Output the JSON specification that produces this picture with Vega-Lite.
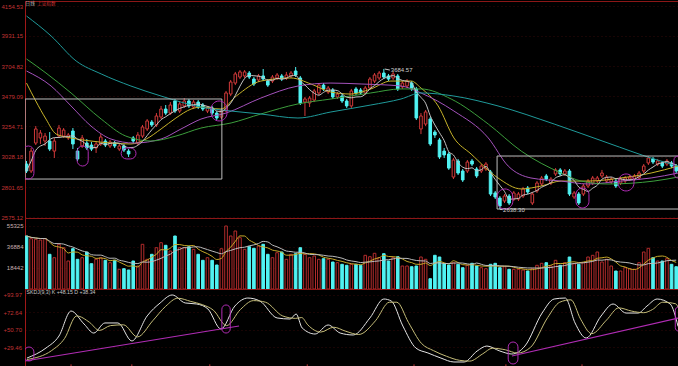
{
  "$schema": "https://vega.github.io/schema/vega-lite/v6.json",
  "background": "#000000",
  "padding": 0,
  "bounds": "flush",
  "spacing": 0,
  "config": {
    "view": {"stroke": "#8c1717", "strokeWidth": 1},
    "scale": {"continuousPadding": 0},
    "axis": {"labelFont": "Liberation Sans", "labelFontSize": 6, "ticks": false, "tickSize": 0, "labelPadding": 2, "labelOverlap": false, "labelFlush": false, "domainColor": "#a01818", "gridColor": "#330909", "gridDash": [1, 3]}
  },
  "resolve": {"scale": {"y": "independent", "color": "independent"}},
  "datasets": {
    "k": [
      {"i":0,"o":2974,"h":2997,"l":2907,"c":2922,"v":46534},
      {"i":1,"o":2922,"h":3094,"l":2907,"c":3071,"v":44163},
      {"i":2,"o":3131,"h":3258,"l":3116,"c":3236,"v":43637},
      {"i":3,"o":3169,"h":3228,"l":3124,"c":3206,"v":43022},
      {"i":4,"o":3146,"h":3206,"l":3109,"c":3183,"v":44163},
      {"i":5,"o":3146,"h":3213,"l":3071,"c":3086,"v":30467},
      {"i":6,"o":3071,"h":3169,"l":3019,"c":3146,"v":27481},
      {"i":7,"o":3183,"h":3266,"l":3169,"c":3243,"v":39247},
      {"i":8,"o":3183,"h":3243,"l":3169,"c":3228,"v":36261},
      {"i":9,"o":3169,"h":3206,"l":3154,"c":3191,"v":24584},
      {"i":10,"o":3221,"h":3243,"l":3086,"c":3124,"v":35383},
      {"i":11,"o":3071,"h":3094,"l":2997,"c":3012,"v":26077},
      {"i":12,"o":3109,"h":3191,"l":3094,"c":3169,"v":27481},
      {"i":13,"o":3131,"h":3161,"l":3079,"c":3094,"v":32486},
      {"i":14,"o":3116,"h":3139,"l":3071,"c":3086,"v":22213},
      {"i":15,"o":3094,"h":3146,"l":3057,"c":3124,"v":26077},
      {"i":16,"o":3124,"h":3198,"l":3109,"c":3176,"v":27481},
      {"i":17,"o":3146,"h":3161,"l":3101,"c":3116,"v":25199},
      {"i":18,"o":3109,"h":3154,"l":3094,"c":3139,"v":23091},
      {"i":19,"o":3131,"h":3146,"l":3094,"c":3109,"v":25199},
      {"i":20,"o":3086,"h":3124,"l":3071,"c":3109,"v":17297},
      {"i":21,"o":3109,"h":3124,"l":3064,"c":3079,"v":17823},
      {"i":22,"o":3071,"h":3086,"l":3027,"c":3049,"v":16682},
      {"i":23,"o":3169,"h":3183,"l":3131,"c":3146,"v":24584},
      {"i":24,"o":3131,"h":3213,"l":3116,"c":3191,"v":20194},
      {"i":25,"o":3183,"h":3266,"l":3169,"c":3251,"v":39247},
      {"i":26,"o":3236,"h":3310,"l":3221,"c":3296,"v":26077},
      {"i":27,"o":3288,"h":3303,"l":3251,"c":3266,"v":30467},
      {"i":28,"o":3266,"h":3355,"l":3251,"c":3333,"v":36261},
      {"i":29,"o":3325,"h":3408,"l":3310,"c":3385,"v":40651},
      {"i":30,"o":3385,"h":3415,"l":3340,"c":3355,"v":38369},
      {"i":31,"o":3355,"h":3437,"l":3340,"c":3415,"v":33364},
      {"i":32,"o":3445,"h":3460,"l":3355,"c":3370,"v":46534},
      {"i":33,"o":3370,"h":3445,"l":3355,"c":3423,"v":36261},
      {"i":34,"o":3408,"h":3467,"l":3393,"c":3445,"v":36261},
      {"i":35,"o":3445,"h":3460,"l":3393,"c":3408,"v":37139},
      {"i":36,"o":3400,"h":3452,"l":3385,"c":3437,"v":34857},
      {"i":37,"o":3437,"h":3452,"l":3385,"c":3400,"v":30467},
      {"i":38,"o":3415,"h":3430,"l":3370,"c":3385,"v":25199},
      {"i":39,"o":3370,"h":3408,"l":3355,"c":3393,"v":27481},
      {"i":40,"o":3393,"h":3408,"l":3340,"c":3355,"v":25199},
      {"i":41,"o":3355,"h":3370,"l":3303,"c":3318,"v":21072},
      {"i":42,"o":3325,"h":3393,"l":3310,"c":3378,"v":35383},
      {"i":43,"o":3370,"h":3520,"l":3363,"c":3505,"v":55314},
      {"i":44,"o":3497,"h":3602,"l":3482,"c":3587,"v":46534},
      {"i":45,"o":3579,"h":3662,"l":3564,"c":3647,"v":50924},
      {"i":46,"o":3624,"h":3676,"l":3609,"c":3662,"v":45041},
      {"i":47,"o":3632,"h":3676,"l":3617,"c":3662,"v":34857},
      {"i":48,"o":3654,"h":3669,"l":3609,"c":3624,"v":37139},
      {"i":49,"o":3609,"h":3624,"l":3557,"c":3572,"v":35735},
      {"i":50,"o":3602,"h":3647,"l":3587,"c":3632,"v":37754},
      {"i":51,"o":3632,"h":3684,"l":3594,"c":3609,"v":39247},
      {"i":52,"o":3594,"h":3609,"l":3550,"c":3564,"v":30467},
      {"i":53,"o":3594,"h":3639,"l":3579,"c":3624,"v":27481},
      {"i":54,"o":3617,"h":3654,"l":3602,"c":3639,"v":31871},
      {"i":55,"o":3632,"h":3647,"l":3594,"c":3609,"v":32486},
      {"i":56,"o":3617,"h":3662,"l":3602,"c":3639,"v":26077},
      {"i":57,"o":3632,"h":3669,"l":3617,"c":3654,"v":30467},
      {"i":58,"o":3669,"h":3699,"l":3624,"c":3639,"v":30993},
      {"i":59,"o":3617,"h":3632,"l":3415,"c":3430,"v":36261},
      {"i":60,"o":3437,"h":3475,"l":3333,"c":3460,"v":30467},
      {"i":61,"o":3430,"h":3482,"l":3400,"c":3467,"v":27481},
      {"i":62,"o":3452,"h":3535,"l":3437,"c":3520,"v":28974},
      {"i":63,"o":3505,"h":3579,"l":3490,"c":3564,"v":26077},
      {"i":64,"o":3564,"h":3579,"l":3520,"c":3535,"v":26603},
      {"i":65,"o":3512,"h":3557,"l":3497,"c":3542,"v":26077},
      {"i":66,"o":3527,"h":3542,"l":3460,"c":3475,"v":23706},
      {"i":67,"o":3475,"h":3512,"l":3460,"c":3497,"v":23091},
      {"i":68,"o":3482,"h":3497,"l":3430,"c":3445,"v":21687},
      {"i":69,"o":3445,"h":3460,"l":3393,"c":3408,"v":20809},
      {"i":70,"o":3408,"h":3535,"l":3393,"c":3520,"v":21687},
      {"i":71,"o":3535,"h":3550,"l":3490,"c":3505,"v":21687},
      {"i":72,"o":3527,"h":3542,"l":3490,"c":3505,"v":20809},
      {"i":73,"o":3505,"h":3557,"l":3490,"c":3542,"v":29589},
      {"i":74,"o":3542,"h":3624,"l":3527,"c":3609,"v":28359},
      {"i":75,"o":3594,"h":3654,"l":3579,"c":3639,"v":31345},
      {"i":76,"o":3617,"h":3669,"l":3602,"c":3654,"v":27481},
      {"i":77,"o":3654,"h":3684.57,"l":3609,"c":3624,"v":30993},
      {"i":78,"o":3632,"h":3647,"l":3594,"c":3609,"v":24584},
      {"i":79,"o":3617,"h":3662,"l":3602,"c":3647,"v":27481},
      {"i":80,"o":3632,"h":3647,"l":3520,"c":3535,"v":28359},
      {"i":81,"o":3550,"h":3594,"l":3535,"c":3579,"v":20194},
      {"i":82,"o":3557,"h":3609,"l":3542,"c":3594,"v":20194},
      {"i":83,"o":3579,"h":3594,"l":3520,"c":3535,"v":19579},
      {"i":84,"o":3535,"h":3550,"l":3303,"c":3318,"v":20194},
      {"i":85,"o":3236,"h":3355,"l":3198,"c":3333,"v":28096},
      {"i":86,"o":3273,"h":3378,"l":3258,"c":3363,"v":26077},
      {"i":87,"o":3310,"h":3325,"l":3109,"c":3124,"v":9043},
      {"i":88,"o":3213,"h":3228,"l":3169,"c":3191,"v":29589},
      {"i":89,"o":3154,"h":3169,"l":3012,"c":3027,"v":28096},
      {"i":90,"o":3071,"h":3094,"l":3019,"c":3042,"v":22213},
      {"i":91,"o":3049,"h":3064,"l":2930,"c":2944,"v":21072},
      {"i":92,"o":2877,"h":3019,"l":2862,"c":3004,"v":23091},
      {"i":93,"o":2997,"h":3012,"l":2892,"c":2907,"v":21687},
      {"i":94,"o":2922,"h":2937,"l":2840,"c":2855,"v":18701},
      {"i":95,"o":2922,"h":3004,"l":2907,"c":2989,"v":20809},
      {"i":96,"o":2997,"h":3012,"l":2959,"c":2974,"v":22565},
      {"i":97,"o":2937,"h":2952,"l":2870,"c":2885,"v":20194},
      {"i":98,"o":2922,"h":2974,"l":2907,"c":2959,"v":18701},
      {"i":99,"o":2937,"h":2989,"l":2922,"c":2974,"v":17823},
      {"i":100,"o":2915,"h":2930,"l":2735,"c":2750,"v":21687},
      {"i":101,"o":2758,"h":2773,"l":2713,"c":2728,"v":22565},
      {"i":102,"o":2720,"h":2735,"l":2638.3,"c":2661,"v":18701},
      {"i":103,"o":2698,"h":2750,"l":2683,"c":2735,"v":19579},
      {"i":104,"o":2735,"h":2750,"l":2668,"c":2683,"v":17297},
      {"i":105,"o":2713,"h":2773,"l":2698,"c":2758,"v":17297},
      {"i":106,"o":2713,"h":2765,"l":2698,"c":2750,"v":17297},
      {"i":107,"o":2735,"h":2803,"l":2720,"c":2788,"v":16682},
      {"i":108,"o":2795,"h":2810,"l":2750,"c":2765,"v":15804},
      {"i":109,"o":2683,"h":2765,"l":2668,"c":2750,"v":17823},
      {"i":110,"o":2773,"h":2847,"l":2758,"c":2832,"v":20809},
      {"i":111,"o":2825,"h":2885,"l":2810,"c":2870,"v":22565},
      {"i":112,"o":2885,"h":2900,"l":2847,"c":2862,"v":23091},
      {"i":113,"o":2832,"h":2877,"l":2817,"c":2862,"v":20194},
      {"i":114,"o":2900,"h":2944,"l":2885,"c":2930,"v":25199},
      {"i":115,"o":2930,"h":2944,"l":2885,"c":2900,"v":20809},
      {"i":116,"o":2900,"h":2937,"l":2885,"c":2922,"v":23091},
      {"i":117,"o":2922,"h":2937,"l":2735,"c":2750,"v":28096},
      {"i":118,"o":2728,"h":2773,"l":2713,"c":2758,"v":22213},
      {"i":119,"o":2750,"h":2765,"l":2668,"c":2683,"v":21687},
      {"i":120,"o":2750,"h":2825,"l":2735,"c":2810,"v":23091},
      {"i":121,"o":2810,"h":2862,"l":2795,"c":2847,"v":28096},
      {"i":122,"o":2832,"h":2885,"l":2817,"c":2870,"v":29589},
      {"i":123,"o":2847,"h":2885,"l":2832,"c":2870,"v":32486},
      {"i":124,"o":2885,"h":2930,"l":2870,"c":2907,"v":23706},
      {"i":125,"o":2847,"h":2892,"l":2832,"c":2877,"v":26077},
      {"i":126,"o":2840,"h":2877,"l":2825,"c":2862,"v":20194},
      {"i":127,"o":2847,"h":2862,"l":2795,"c":2810,"v":15804},
      {"i":128,"o":2832,"h":2877,"l":2817,"c":2862,"v":15804},
      {"i":129,"o":2847,"h":2885,"l":2832,"c":2870,"v":18701},
      {"i":130,"o":2862,"h":2892,"l":2847,"c":2877,"v":17823},
      {"i":131,"o":2862,"h":2900,"l":2847,"c":2885,"v":17297},
      {"i":132,"o":2870,"h":2922,"l":2855,"c":2907,"v":23091},
      {"i":133,"o":2922,"h":2974,"l":2907,"c":2959,"v":32486},
      {"i":134,"o":2982,"h":3034,"l":2967,"c":3019,"v":35735},
      {"i":135,"o":3012,"h":3027,"l":2974,"c":2989,"v":27481},
      {"i":136,"o":2974,"h":3012,"l":2959,"c":2997,"v":24584},
      {"i":137,"o":2982,"h":2997,"l":2944,"c":2959,"v":24584},
      {"i":138,"o":2974,"h":3012,"l":2959,"c":2997,"v":26603},
      {"i":139,"o":2982,"h":2997,"l":2944,"c":2959,"v":21687},
      {"i":140,"o":2959,"h":2974,"l":2907,"c":2922,"v":19579}
    ],
    "ma": [
      {"s":"MA10","i":0,"p":3579},{"s":"MA10","i":2,"p":3445},{"s":"MA10","i":4.2,"p":3310},{"s":"MA10","i":6.4,"p":3198},{"s":"MA10","i":9.6,"p":3169},{"s":"MA10","i":13.9,"p":3146},{"s":"MA10","i":18.2,"p":3131},{"s":"MA10","i":22.5,"p":3124},{"s":"MA10","i":25.8,"p":3161},{"s":"MA10","i":29,"p":3236},{"s":"MA10","i":32.2,"p":3318},{"s":"MA10","i":35.5,"p":3385},{"s":"MA10","i":37.6,"p":3400},{"s":"MA10","i":41.9,"p":3385},{"s":"MA10","i":45.2,"p":3482},{"s":"MA10","i":50.5,"p":3594},{"s":"MA10","i":57,"p":3617},{"s":"MA10","i":61.3,"p":3572},{"s":"MA10","i":65.6,"p":3512},{"s":"MA10","i":69.9,"p":3497},{"s":"MA10","i":74.2,"p":3535},{"s":"MA10","i":78.5,"p":3594},{"s":"MA10","i":82.9,"p":3594},{"s":"MA10","i":85,"p":3542},{"s":"MA10","i":88.7,"p":3408},{"s":"MA10","i":92.1,"p":3169},{"s":"MA10","i":95.8,"p":3049},{"s":"MA10","i":101.6,"p":2870},{"s":"MA10","i":106.6,"p":2788},{"s":"MA10","i":110.9,"p":2810},{"s":"MA10","i":115.2,"p":2847},{"s":"MA10","i":121,"p":2847},{"s":"MA10","i":128.1,"p":2870},{"s":"MA10","i":134.6,"p":2907},{"s":"MA10","i":140.4,"p":2959},
      {"s":"MA20","i":0,"p":3669},{"s":"MA20","i":5.3,"p":3557},{"s":"MA20","i":9.6,"p":3408},{"s":"MA20","i":13.9,"p":3258},{"s":"MA20","i":18.2,"p":3161},{"s":"MA20","i":23.2,"p":3131},{"s":"MA20","i":29,"p":3161},{"s":"MA20","i":33.3,"p":3236},{"s":"MA20","i":37.6,"p":3310},{"s":"MA20","i":43,"p":3355},{"s":"MA20","i":50.5,"p":3467},{"s":"MA20","i":58.5,"p":3557},{"s":"MA20","i":65.6,"p":3579},{"s":"MA20","i":72.1,"p":3572},{"s":"MA20","i":80.7,"p":3557},{"s":"MA20","i":85,"p":3505},{"s":"MA20","i":92.1,"p":3370},{"s":"MA20","i":99.5,"p":3169},{"s":"MA20","i":103.8,"p":2959},{"s":"MA20","i":108.7,"p":2870},{"s":"MA20","i":115.2,"p":2847},{"s":"MA20","i":121,"p":2825},{"s":"MA20","i":128.1,"p":2847},{"s":"MA20","i":134.6,"p":2870},{"s":"MA20","i":140.4,"p":2907},
      {"s":"MA30","i":0,"p":3759},{"s":"MA30","i":4.2,"p":3654},{"s":"MA30","i":9.6,"p":3505},{"s":"MA30","i":16.1,"p":3310},{"s":"MA30","i":21.4,"p":3183},{"s":"MA30","i":26.8,"p":3146},{"s":"MA30","i":32.2,"p":3183},{"s":"MA30","i":37.6,"p":3243},{"s":"MA30","i":44.1,"p":3281},{"s":"MA30","i":50.5,"p":3348},{"s":"MA30","i":58.5,"p":3423},{"s":"MA30","i":65.6,"p":3460},{"s":"MA30","i":74.2,"p":3505},{"s":"MA30","i":80.7,"p":3535},{"s":"MA30","i":85,"p":3535},{"s":"MA30","i":91.5,"p":3460},{"s":"MA30","i":99.5,"p":3273},{"s":"MA30","i":106.6,"p":3071},{"s":"MA30","i":115.2,"p":2907},{"s":"MA30","i":119.5,"p":2847},{"s":"MA30","i":125.3,"p":2825},{"s":"MA30","i":135.2,"p":2847},{"s":"MA30","i":140.4,"p":2877},
      {"s":"MA60","i":0,"p":4080},{"s":"MA60","i":5.3,"p":3931},{"s":"MA60","i":10.7,"p":3744},{"s":"MA60","i":16.1,"p":3647},{"s":"MA60","i":22.5,"p":3557},{"s":"MA60","i":29,"p":3482},{"s":"MA60","i":37.6,"p":3400},{"s":"MA60","i":44.1,"p":3370},{"s":"MA60","i":50.5,"p":3348},{"s":"MA60","i":58.5,"p":3318},{"s":"MA60","i":65.6,"p":3363},{"s":"MA60","i":74.2,"p":3415},{"s":"MA60","i":80.7,"p":3460},{"s":"MA60","i":85,"p":3505},{"s":"MA60","i":92.1,"p":3482},{"s":"MA60","i":101.6,"p":3408},{"s":"MA60","i":113.7,"p":3273},{"s":"MA60","i":125.3,"p":3131},{"s":"MA60","i":135.2,"p":3012},{"s":"MA60","i":140.4,"p":2959}
    ],
    "box": [
      {"i1":-0.3,"i2":42.1,"p1":3460,"p2":2862},
      {"i1":101.4,"i2":141,"p1":3034,"p2":2638}
    ],
    "ellp": [
      {"i1":-0.8,"i2":1.6,"p1":3109,"p2":2862},
      {"i1":10.9,"i2":13.3,"p1":3109,"p2":2959},
      {"i1":20.4,"i2":23.6,"p1":3094,"p2":3012},
      {"i1":39.8,"i2":43.2,"p1":3445,"p2":3296},
      {"i1":101.4,"i2":104.8,"p1":2788,"p2":2638},
      {"i1":118.4,"i2":121.2,"p1":2795,"p2":2646},
      {"i1":127.5,"i2":130.9,"p1":2900,"p2":2773},
      {"i1":139.5,"i2":141.3,"p1":3034,"p2":2870}
    ],
    "notes": [
      {"i":78.5,"p":3675,"t":"3684.57"},
      {"i":102.7,"p":2633,"t":"2638.30"}
    ],
    "conn": [
      {"i1":77.2,"i2":78.3,"p1":3684,"p2":3676},
      {"i1":102,"i2":102.6,"p1":2636,"p2":2633}
    ],
    "hdr1": [{"i":-0.2,"p":4192,"t":"日线"}],
    "hdr2": [{"i":2.3,"p":4192,"t":"上证指数"}],
    "kdj": [
      {"s":"K","i":0.1,"v":15.8},{"s":"K","i":4.2,"v":28.2},{"s":"K","i":7,"v":43.1},{"s":"K","i":9.6,"v":74.1},{"s":"K","i":12.4,"v":58},{"s":"K","i":14.5,"v":46.8},{"s":"K","i":16.9,"v":59.3},{"s":"K","i":19.7,"v":59.3},{"s":"K","i":22.7,"v":37},{"s":"K","i":26,"v":68},{"s":"K","i":28.8,"v":84.1},{"s":"K","i":31.4,"v":94},{"s":"K","i":34.2,"v":84.1},{"s":"K","i":36.7,"v":82.8},{"s":"K","i":39.1,"v":76.6},{"s":"K","i":41.9,"v":51.8},{"s":"K","i":44.9,"v":80.3},{"s":"K","i":47.7,"v":90.2},{"s":"K","i":50.3,"v":86.5},{"s":"K","i":54,"v":65.5},{"s":"K","i":56.8,"v":64.2},{"s":"K","i":58.1,"v":70.4},{"s":"K","i":59.4,"v":53.1},{"s":"K","i":62.2,"v":45.6},{"s":"K","i":65,"v":56.8},{"s":"K","i":67.6,"v":46.8},{"s":"K","i":70.4,"v":44.4},{"s":"K","i":74,"v":65.5},{"s":"K","i":77,"v":89},{"s":"K","i":78.6,"v":86.5},{"s":"K","i":81.1,"v":55.5},{"s":"K","i":83.9,"v":28.2},{"s":"K","i":86.5,"v":22.1},{"s":"K","i":89.3,"v":15.8},{"s":"K","i":92.1,"v":10.9},{"s":"K","i":94.3,"v":10.9},{"s":"K","i":97.1,"v":24.5},{"s":"K","i":99.2,"v":30.7},{"s":"K","i":102,"v":24.5},{"s":"K","i":104.6,"v":20.8},{"s":"K","i":107.4,"v":30.7},{"s":"K","i":111.1,"v":71.6},{"s":"K","i":113.7,"v":89},{"s":"K","i":116.1,"v":90.2},{"s":"K","i":118.2,"v":59.3},{"s":"K","i":120.6,"v":40.6},{"s":"K","i":123.8,"v":67.9},{"s":"K","i":126.4,"v":82.8},{"s":"K","i":129.2,"v":71.6},{"s":"K","i":131.8,"v":71.6},{"s":"K","i":133.7,"v":80.3},{"s":"K","i":135.9,"v":89},{"s":"K","i":138.7,"v":82.8},{"s":"K","i":140.4,"v":55},
      {"s":"D","i":0.1,"v":14},{"s":"D","i":5.4,"v":25},{"s":"D","i":8.2,"v":40},{"s":"D","i":10.8,"v":68},{"s":"D","i":13.6,"v":60},{"s":"D","i":15.7,"v":50},{"s":"D","i":18.1,"v":56},{"s":"D","i":20.9,"v":57},{"s":"D","i":23.9,"v":42},{"s":"D","i":27.2,"v":62},{"s":"D","i":30,"v":80},{"s":"D","i":32.6,"v":90},{"s":"D","i":35.4,"v":86},{"s":"D","i":37.9,"v":82},{"s":"D","i":40.3,"v":75},{"s":"D","i":43.1,"v":56},{"s":"D","i":46.1,"v":76},{"s":"D","i":48.9,"v":87},{"s":"D","i":51.5,"v":85},{"s":"D","i":55.2,"v":68},{"s":"D","i":58,"v":65},{"s":"D","i":59.3,"v":66},{"s":"D","i":60.6,"v":57},{"s":"D","i":63.4,"v":48},{"s":"D","i":66.2,"v":54},{"s":"D","i":68.8,"v":49},{"s":"D","i":71.6,"v":45},{"s":"D","i":75.2,"v":62},{"s":"D","i":78.2,"v":85},{"s":"D","i":79.8,"v":85},{"s":"D","i":82.3,"v":60},{"s":"D","i":85.1,"v":34},{"s":"D","i":87.7,"v":25},{"s":"D","i":90.5,"v":18},{"s":"D","i":93.3,"v":13},{"s":"D","i":95.5,"v":12},{"s":"D","i":98.3,"v":21},{"s":"D","i":100.4,"v":28},{"s":"D","i":103.2,"v":26},{"s":"D","i":105.8,"v":22},{"s":"D","i":108.6,"v":29},{"s":"D","i":112.3,"v":66},{"s":"D","i":114.9,"v":85},{"s":"D","i":117.3,"v":88},{"s":"D","i":119.4,"v":64},{"s":"D","i":121.8,"v":46},{"s":"D","i":125,"v":63},{"s":"D","i":127.6,"v":78},{"s":"D","i":130.4,"v":74},{"s":"D","i":133,"v":72},{"s":"D","i":134.9,"v":76},{"s":"D","i":137.1,"v":85},{"s":"D","i":139.9,"v":83},{"s":"D","i":140.6,"v":76}
    ],
    "trend": [
      {"i1":-0.3,"v1":12.1,"i2":45.8,"v2":55.5},
      {"i1":104.6,"v1":18.3,"i2":140.6,"v2":65.5}
    ],
    "ellk": [
      {"i1":-0.5,"i2":1.6,"v1":29.5,"v2":12.1},
      {"i1":42.1,"i2":43.9,"v1":81.6,"v2":46.8},
      {"i1":103.8,"i2":105.9,"v1":35.7,"v2":8.4},
      {"i1":139.8,"i2":141.2,"v1":79.1,"v2":49.3}
    ],
    "khdr": [
      {"i":0,"v":97.7,"t":"SKDJ(9,3) K +48.15 D +38.34"}
    ],
    "xt": [
      {"i":9.6},{"i":22.7},{"i":39.5},{"i":60.5},{"i":83.5},{"i":103.3},{"i":119.7}
    ]
  },
  "vconcat": [
    {
      "width": 654,
      "height": 217,
      "layer": [
        {
          "data": {"name": "k"},
          "mark": {"type": "rule", "strokeWidth": 1, "clip": true},
          "encoding": {
            "x": {"field": "i", "type": "quantitative", "scale": {"domain": [-0.32, 140.6], "nice": false, "zero": false, "padding": 0}, "axis": null},
            "y": {"field": "l", "type": "quantitative", "scale": {"domain": [2571, 4192], "nice": false, "zero": false}, "title": null,
                  "axis": {"values": [2575.12, 2801.65, 3028.18, 3254.71, 3479.09, 3704.82, 3931.15, 4154.53], "tickCount": 30, "format": ".2f", "labelColor": "#c03434", "labelAlign": "left", "labelPadding": 24, "labelOverlap": false, "grid": true, "title": null}},
            "y2": {"field": "h"},
            "color": {"condition": {"test": "datum.c < datum.o", "value": "#50f2f2"}, "value": "#d23a3a"}
          }
        },
        {
          "data": {"name": "k"},
          "mark": {"type": "bar", "width": 2.6, "orient": "vertical", "strokeWidth": 1, "clip": true},
          "encoding": {
            "x": {"field": "i", "type": "quantitative", "scale": {"domain": [-0.32, 140.6], "nice": false, "zero": false, "padding": 0}, "axis": null},
            "y": {"field": "o", "type": "quantitative", "scale": {"domain": [2571, 4192], "nice": false, "zero": false}, "title": null},
            "y2": {"field": "c"},
            "fill": {"condition": {"test": "datum.c < datum.o", "value": "#50f2f2"}, "value": "#000000"},
            "stroke": {"condition": {"test": "datum.c < datum.o", "value": "#50f2f2"}, "value": "#d23a3a"}
          }
        },
        {
          "data": {"name": "ma"},
          "mark": {"type": "line", "interpolate": "monotone", "strokeWidth": 1, "clip": true},
          "encoding": {
            "x": {"field": "i", "type": "quantitative", "scale": {"domain": [-0.32, 140.6], "nice": false, "zero": false, "padding": 0}, "axis": null},
            "y": {"field": "p", "type": "quantitative", "scale": {"domain": [2571, 4192], "nice": false, "zero": false}, "title": null},
            "color": {"field": "s", "type": "nominal", "scale": {"domain": ["MA10", "MA20", "MA30", "MA60"], "range": ["#c8b42a", "#a452bc", "#3c9e3c", "#1f9a9a"]}, "legend": null}
          }
        },
        {
          "data": {"name": "k"},
          "transform": [{"window": [{"op": "mean", "field": "c", "as": "ma5"}], "frame": [-4, 0], "sort": [{"field": "i"}]}],
          "mark": {"type": "line", "interpolate": "monotone", "strokeWidth": 1, "color": "#c4c4c4", "clip": true},
          "encoding": {
            "x": {"field": "i", "type": "quantitative", "scale": {"domain": [-0.32, 140.6], "nice": false, "zero": false, "padding": 0}, "axis": null},
            "y": {"field": "ma5", "type": "quantitative", "scale": {"domain": [2571, 4192], "nice": false, "zero": false}, "title": null}
          }
        },
        {
          "data": {"name": "box"},
          "mark": {"type": "rect", "fill": "#000000", "fillOpacity": 0, "stroke": "#bdbdbd", "strokeWidth": 1, "clip": true},
          "encoding": {
            "x": {"field": "i1", "type": "quantitative", "scale": {"domain": [-0.32, 140.6], "nice": false, "zero": false, "padding": 0}, "axis": null},
            "x2": {"field": "i2"},
            "y": {"field": "p1", "type": "quantitative", "scale": {"domain": [2571, 4192], "nice": false, "zero": false}, "title": null},
            "y2": {"field": "p2"}
          }
        },
        {
          "data": {"name": "ellp"},
          "mark": {"type": "rect", "fill": "#000000", "fillOpacity": 0, "stroke": "#b02cb4", "strokeWidth": 1, "cornerRadius": 40, "clip": true},
          "encoding": {
            "x": {"field": "i1", "type": "quantitative", "scale": {"domain": [-0.32, 140.6], "nice": false, "zero": false, "padding": 0}, "axis": null},
            "x2": {"field": "i2"},
            "y": {"field": "p1", "type": "quantitative", "scale": {"domain": [2571, 4192], "nice": false, "zero": false}, "title": null},
            "y2": {"field": "p2"}
          }
        },
        {
          "data": {"name": "conn"},
          "mark": {"type": "rule", "color": "#c8c8c8", "strokeWidth": 1},
          "encoding": {
            "x": {"field": "i1", "type": "quantitative", "scale": {"domain": [-0.32, 140.6], "nice": false, "zero": false, "padding": 0}, "axis": null},
            "x2": {"field": "i2"},
            "y": {"field": "p1", "type": "quantitative", "scale": {"domain": [2571, 4192], "nice": false, "zero": false}, "title": null},
            "y2": {"field": "p2"}
          }
        },
        {
          "data": {"name": "notes"},
          "mark": {"type": "text", "align": "left", "baseline": "middle", "font": "Liberation Sans", "fontSize": 6, "color": "#cfcfcf"},
          "encoding": {
            "x": {"field": "i", "type": "quantitative", "scale": {"domain": [-0.32, 140.6], "nice": false, "zero": false, "padding": 0}, "axis": null},
            "y": {"field": "p", "type": "quantitative", "scale": {"domain": [2571, 4192], "nice": false, "zero": false}, "title": null},
            "text": {"field": "t"}
          }
        },
        {
          "data": {"name": "hdr1"},
          "mark": {"type": "text", "align": "left", "baseline": "top", "font": "Noto Sans CJK SC", "fontSize": 4.6, "color": "#b8b8b8"},
          "encoding": {
            "x": {"field": "i", "type": "quantitative", "scale": {"domain": [-0.32, 140.6], "nice": false, "zero": false, "padding": 0}, "axis": null},
            "y": {"field": "p", "type": "quantitative", "scale": {"domain": [2571, 4192], "nice": false, "zero": false}, "title": null},
            "text": {"field": "t"}
          }
        },
        {
          "data": {"name": "hdr2"},
          "mark": {"type": "text", "align": "left", "baseline": "top", "font": "Noto Sans CJK SC", "fontSize": 4.6, "color": "#c83232"},
          "encoding": {
            "x": {"field": "i", "type": "quantitative", "scale": {"domain": [-0.32, 140.6], "nice": false, "zero": false, "padding": 0}, "axis": null},
            "y": {"field": "p", "type": "quantitative", "scale": {"domain": [2571, 4192], "nice": false, "zero": false}, "title": null},
            "text": {"field": "t"}
          }
        }
      ]
    },
    {
      "width": 654,
      "height": 71,
      "layer": [
        {
          "data": {"name": "k"},
          "mark": {"type": "bar", "width": 2.6, "orient": "vertical", "strokeWidth": 1, "clip": true},
          "encoding": {
            "x": {"field": "i", "type": "quantitative", "scale": {"domain": [-0.32, 140.6], "nice": false, "zero": false, "padding": 0}, "axis": null},
            "y": {"field": "v", "type": "quantitative", "scale": {"domain": [0, 62338], "nice": false}, "title": null,
                  "axis": {"values": [18442, 36884, 55325], "tickCount": 30, "format": "d", "labelColor": "#c8b0b0", "labelOverlap": false, "grid": true, "title": null}},
            "y2": {"datum": 0},
            "fill": {"condition": {"test": "datum.c < datum.o", "value": "#50f2f2"}, "value": "#000000"},
            "stroke": {"condition": {"test": "datum.c < datum.o", "value": "#50f2f2"}, "value": "#b42c2c"}
          }
        },
        {
          "data": {"name": "k"},
          "transform": [{"window": [{"op": "mean", "field": "v", "as": "vm5"}], "frame": [-4, 0], "sort": [{"field": "i"}]}],
          "mark": {"type": "line", "interpolate": "monotone", "strokeWidth": 1, "color": "#c8aa28", "clip": true},
          "encoding": {
            "x": {"field": "i", "type": "quantitative", "scale": {"domain": [-0.32, 140.6], "nice": false, "zero": false, "padding": 0}, "axis": null},
            "y": {"field": "vm5", "type": "quantitative", "scale": {"domain": [0, 62338], "nice": false}, "title": null}
          }
        },
        {
          "data": {"name": "k"},
          "transform": [{"window": [{"op": "mean", "field": "v", "as": "vm10"}], "frame": [-9, 0], "sort": [{"field": "i"}]}],
          "mark": {"type": "line", "interpolate": "monotone", "strokeWidth": 1, "color": "#bcbcbc", "clip": true},
          "encoding": {
            "x": {"field": "i", "type": "quantitative", "scale": {"domain": [-0.32, 140.6], "nice": false, "zero": false, "padding": 0}, "axis": null},
            "y": {"field": "vm10", "type": "quantitative", "scale": {"domain": [0, 62338], "nice": false}, "title": null}
          }
        }
      ]
    },
    {
      "width": 654,
      "height": 78,
      "layer": [
        {
          "data": {"name": "kdj"},
          "mark": {"type": "line", "interpolate": "monotone", "strokeWidth": 1, "clip": true},
          "encoding": {
            "x": {"field": "i", "type": "quantitative", "scale": {"domain": [-0.32, 140.6], "nice": false, "zero": false, "padding": 0}, "axis": null},
            "y": {"field": "v", "type": "quantitative", "scale": {"domain": [4.7, 101.4], "nice": false, "zero": false}, "title": null,
                  "axis": {"values": [29.46, 50.7, 72.64, 93.97], "tickCount": 30, "labelExpr": "'+' + format(datum.value, '.2f')", "labelColor": "#c03434", "labelAlign": "left", "labelPadding": 22, "labelOverlap": false, "grid": true, "title": null}},
            "color": {"field": "s", "type": "nominal", "scale": {"domain": ["K", "D"], "range": ["#e4e4e4", "#c4bc78"]}, "legend": null}
          }
        },
        {
          "data": {"name": "trend"},
          "mark": {"type": "rule", "color": "#b02cb4", "strokeWidth": 1.2, "clip": true},
          "encoding": {
            "x": {"field": "i1", "type": "quantitative", "scale": {"domain": [-0.32, 140.6], "nice": false, "zero": false, "padding": 0}, "axis": null},
            "x2": {"field": "i2"},
            "y": {"field": "v1", "type": "quantitative", "scale": {"domain": [4.7, 101.4], "nice": false, "zero": false}, "title": null},
            "y2": {"field": "v2"}
          }
        },
        {
          "data": {"name": "ellk"},
          "mark": {"type": "rect", "fill": "#000000", "fillOpacity": 0, "stroke": "#b02cb4", "strokeWidth": 1, "cornerRadius": 40, "clip": true},
          "encoding": {
            "x": {"field": "i1", "type": "quantitative", "scale": {"domain": [-0.32, 140.6], "nice": false, "zero": false, "padding": 0}, "axis": null},
            "x2": {"field": "i2"},
            "y": {"field": "v1", "type": "quantitative", "scale": {"domain": [4.7, 101.4], "nice": false, "zero": false}, "title": null},
            "y2": {"field": "v2"}
          }
        },
        {
          "data": {"name": "xt"},
          "mark": {"type": "rule", "color": "#c03434", "strokeWidth": 1},
          "encoding": {
            "x": {"field": "i", "type": "quantitative", "scale": {"domain": [-0.32, 140.6], "nice": false, "zero": false, "padding": 0}, "axis": null},
            "y": {"datum": 4.7, "type": "quantitative", "scale": {"domain": [4.7, 101.4], "nice": false, "zero": false}, "title": null},
            "y2": {"datum": 8}
          }
        },
        {
          "data": {"name": "khdr"},
          "mark": {"type": "text", "align": "left", "baseline": "middle", "font": "Liberation Sans", "fontSize": 5.2, "color": "#c8c8c8"},
          "encoding": {
            "x": {"field": "i", "type": "quantitative", "scale": {"domain": [-0.32, 140.6], "nice": false, "zero": false, "padding": 0}, "axis": null},
            "y": {"field": "v", "type": "quantitative", "scale": {"domain": [4.7, 101.4], "nice": false, "zero": false}, "title": null},
            "text": {"field": "t"}
          }
        }
      ]
    }
  ]
}
